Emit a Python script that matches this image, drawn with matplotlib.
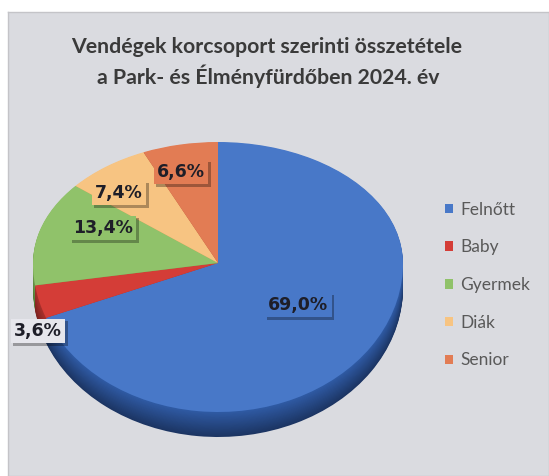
import numpy as np
import matplotlib
matplotlib.use("Agg")
import matplotlib.pyplot as plt
from matplotlib import patheffects as pe

# ---------------- data ----------------
categories = ["Felnőtt", "Baby", "Gyermek", "Diák", "Senior"]
shares = [69.0, 3.6, 13.4, 7.4, 6.6]
title_lines = ["Vendégek korcsoport szerinti összetétele",
               "a Park- és Élményfürdőben 2024. év"]

# ---------------- style ----------------
W, H = 549, 476
top_colors = ["#4878c8", "#d43d37", "#90c26a", "#f7c482", "#e27c54"]
side_dark = ["#1c3563", "#7a221f", "#4f7a35", "#a87a3c", "#8a4428"]
side_light = ["#2f5aa3", "#a8302b", "#6e9a4d", "#d39a55", "#b85a38"]
label_box = ["#4878c8", "#e6e6ec", "#90c26a", "#f7c482", "#e27c54"]
label_pos = [(298, 305), (38, 331), (103, 228), (119, 193), (181, 172)]  # pixel (from top-left)
FONT = "Lato"

# pie geometry in pixels (apex, half-axes of the perspective ellipse)
CX, CY = 218, 263
A, B_TOP, B_BOT = 185, 121, 149
DEPTH = 25

fig = plt.figure(figsize=(W / 100, H / 100), dpi=100)
fig.patch.set_facecolor("white")

# chart panel background
bg = fig.add_axes([8 / W, 0, 1 - 8 / W, 1 - 12 / H])
bg.set_facecolor("#dadbe0")
bg.set_xticks([]); bg.set_yticks([])
for s in bg.spines.values():
    s.set_color("#c4c4c8"); s.set_linewidth(1.0)

ax = fig.add_axes([0, 0, 1, 1])
ax.set_facecolor("none")

def fwd(y):
    y = np.asarray(y, dtype=float)
    return np.where(y >= 0, y * B_TOP, y * B_BOT)

def inv(f):
    f = np.asarray(f, dtype=float)
    return np.where(f >= 0, f / B_TOP, f / B_BOT)

def mix(c1, c2, t):
    a = np.array(matplotlib.colors.to_rgb(c1)); b = np.array(matplotlib.colors.to_rgb(c2))
    return tuple(a * (1 - t) + b * t)

# extruded side: stacked darker layers
d = DEPTH / B_BOT
ks = np.linspace(d, 0, 30)[:-1]
for i, k in enumerate(ks):
    t = i / (len(ks) - 1)
    cols = [mix(side_dark[j], side_light[j], t) for j in range(len(shares))]
    ax.pie(shares, colors=cols, startangle=90, counterclock=False, center=(0, -k),
           wedgeprops=dict(linewidth=0, antialiased=True))

wedges, _ = ax.pie(shares, colors=top_colors, startangle=90, counterclock=False,
                   wedgeprops=dict(linewidth=0))

ax.set_aspect("auto")
ax.set_yscale("function", functions=(fwd, inv))
ax.set_xlim(-CX / A, (W - CX) / A)
ax.set_ylim(-(H - CY) / B_BOT, CY / B_TOP)
ax.axis("off")

# data labels
for v, (px, py), fc in zip(shares, label_pos, label_box):
    txt = f"{v:.1f}%".replace(".", ",")
    t = fig.text(px / W, 1 - py / H, txt, ha="center", va="center",
                 fontsize=12.5, fontweight="bold", family="DejaVu Sans", color="#1e1e28",
                 bbox=dict(boxstyle="square,pad=0.2", fc=fc, ec="none"))
    t.get_bbox_patch().set_path_effects([
        pe.SimplePatchShadow(offset=(2, -2), shadow_rgbFace="black", alpha=0.3),
        pe.Normal()])

# title
fig.text(267 / W, 1 - 47 / H, title_lines[0], ha="center", va="center",
         fontsize=15.3, fontweight="bold", family=FONT, color="#3a3a3a")
fig.text(268 / W, 1 - 76 / H, title_lines[1], ha="center", va="center",
         fontsize=15.3, fontweight="bold", family=FONT, color="#3a3a3a")

# legend
leg = ax.legend(wedges, categories, loc="center left",
                bbox_to_anchor=(445 / W, 1 - 285 / H), bbox_transform=fig.transFigure,
                frameon=False, handlelength=0.46, handleheight=0.46,
                handletextpad=0.4, labelspacing=1.25, borderpad=0, borderaxespad=0,
                prop=dict(family=FONT, size=12.5))
for tx in leg.get_texts():
    tx.set_color("#595959")

fig.savefig("out.png", dpi=100, facecolor=fig.get_facecolor())
